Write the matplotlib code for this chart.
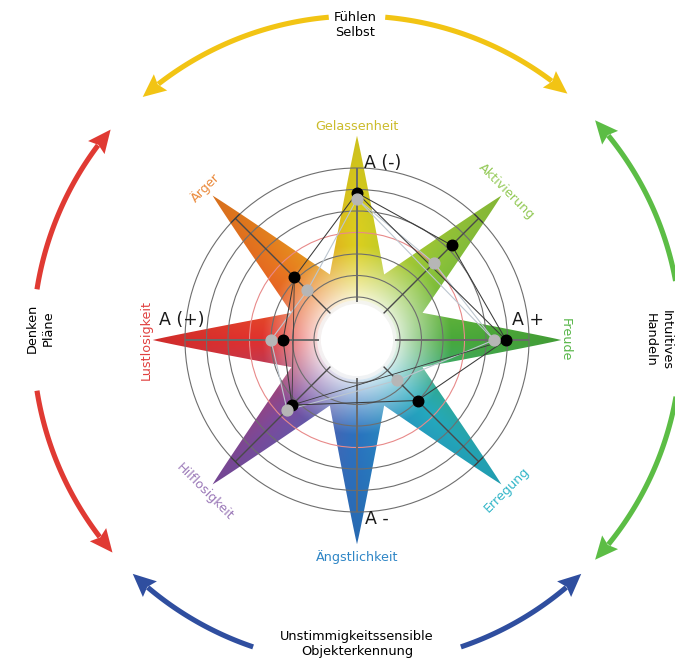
import numpy as np
import matplotlib
matplotlib.use("Agg")
import matplotlib.pyplot as plt
from matplotlib.patches import Polygon, Circle
from matplotlib.colors import to_rgb

# ---------------- data ----------------
categories = ["Gelassenheit", "Aktivierung", "Freude", "Erregung",
              "Ängstlichkeit", "Hilflosigkeit", "Lustlosigkeit", "Ärger"]
axis_angles = [90, 45, 0, -45, -90, -135, 180, 135]
black_values = [6.84, 6.23, 6.93, 3.98, np.nan, 4.28, 3.44, 4.12]
gray_values = [6.56, 5.07, 6.37, 2.65, np.nan, 4.60, 4.00, 3.26]
ring_values = [2, 3, 4, 5, 6, 7, 8]
highlight_ring = 5
spike_colors = ["#dccf1e", "#8fc43a", "#48a83a", "#24a9bd",
                "#2a72bf", "#7c4c9e", "#e0302e", "#e8791f"]
label_colors = ["#cbbb2a", "#93c956", "#58b649", "#33b6c8",
                "#2f86c6", "#9b79b8", "#e0403f", "#ea8a3c"]
label_rot = [0, -45, -90, 45, 0, -45, 90, 45]
label_r = [9.95, 9.8, 9.7, 9.87, 10.1, 10.0, 9.8, 10.0]

pole_labels = ["A (-)", "A +", "A -", "A (+)"]
pole_pos_px = [(383, 163), (528, 320), (377, 519), (182, 320)]

outer_labels = ["Fühlen\nSelbst", "Intuitives\nHandeln",
                "Unstimmigkeitssensible\nObjekterkennung", "Denken\nPläne"]
outer_pos_px = [(355, 25), (658, 340), (357, 644), (40, 328)]
outer_rot = [0, -90, 0, 90]
arrow_colors = ["#f2c414", "#5cbd45", "#2f4e9f", "#e03a33"]
arcs = [  # (start angle, end angle (arrow tip), color index)
    (95, 131.4, 0), (85, 49.5, 0),
    (10.5, 42.7, 1), (-9.6, -42.7, 1),
    (251.3, 226.2, 2), (288.7, 313.8, 2),
    (171, 139.5, 3), (189, 221, 3),
]

# ---------------- geometry / figure ----------------
W, H = 675, 658
cx, cy = 357, 340
unit = 21.5


def px2d(px, py):
    return (px - cx) / unit, (cy - py) / unit


fig = plt.figure(figsize=(W / 100, H / 100), dpi=100)
ax = fig.add_axes([0, 0, 1, 1])
ax.set_xlim(-cx / unit, (W - cx) / unit)
ax.set_ylim(-(H - cy) / unit, cy / unit)
ax.set_aspect("equal")
ax.axis("off")

# ---------------- star shape ----------------
tip_r = 9.5
vert_r = 3.3
u0 = vert_r * np.cos(np.radians(22.5))
w0 = vert_r * np.sin(np.radians(22.5))
us = np.linspace(u0, tip_r, 30)
ws = w0 * ((tip_r - us) / (tip_r - u0)) ** 0.95
pts = []
for phi in sorted([a % 360 for a in axis_angles]):
    p = np.radians(phi)
    e_u = np.array([np.cos(p), np.sin(p)])
    e_v = np.array([-np.sin(p), np.cos(p)])
    for u, w in zip(us, ws):
        pts.append(u * e_u - w * e_v)
    for u, w in zip(us[::-1][1:], ws[::-1][1:]):
        pts.append(u * e_u + w * e_v)
star = Polygon(np.array(pts), closed=True, facecolor="none",
               edgecolor="none", transform=ax.transData)
ax.add_patch(star)

# colour field
N = 900
lim = 9.7
g = np.linspace(-lim, lim, N)
X, Y = np.meshgrid(g, g)
R = np.hypot(X, Y)
TH = np.degrees(np.arctan2(Y, X)) % 360
anc = np.array([a % 360 for a in axis_angles], dtype=float)
order = np.argsort(anc)
anc_s = anc[order]
cols = np.array([to_rgb(c) for c in spike_colors])[order]
anc_ext = np.concatenate([anc_s, [anc_s[0] + 360]])
cols_ext = np.vstack([cols, cols[:1]])
rgb = np.zeros((N, N, 3))
for ch in range(3):
    rgb[..., ch] = np.interp(TH, anc_ext, cols_ext[:, ch])
t = np.clip((R - 1.5) / (4.4 - 1.5), 0, 1) ** 0.8
dark = 1 - 0.07 * np.clip((R - 5.0) / 4.4, 0, 1)
img = 1 - t[..., None] * (1 - rgb)
img = img * dark[..., None]
im = ax.imshow(img, extent=(-lim, lim, -lim, lim), origin="lower",
               interpolation="bilinear", zorder=1)
im.set_clip_path(star)

# white centre with soft halo
ax.add_patch(Circle((0, 0), 1.85, facecolor="#f4f4f4", edgecolor="none", zorder=2, alpha=0.8))
ax.add_patch(Circle((0, 0), 1.68, facecolor="white", edgecolor="none", zorder=2))

# rings
for rv in ring_values:
    col = "#e88a8a" if rv == highlight_ring else "#6e6e6e"
    ax.add_patch(Circle((0, 0), rv, fill=False, edgecolor=col, lw=0.8, zorder=3))

# spokes
for a in axis_angles:
    p = np.radians(a)
    ax.plot([1.75 * np.cos(p), 8.0 * np.cos(p)], [1.75 * np.sin(p), 8.0 * np.sin(p)],
            color="#4a4a4a" if a % 90 else "#6a6a6a", lw=1.0 if a % 90 else 1.4, zorder=4,
            solid_capstyle="butt")
    if a % 90:
        e = np.array([np.cos(p), np.sin(p)]) * 8.0
        v = np.array([-np.sin(p), np.cos(p)]) * 0.26
        ax.plot([e[0] - v[0], e[0] + v[0]], [e[1] - v[1], e[1] + v[1]],
                color="#3a3a3a", lw=0.9, zorder=4)


# ---------------- series ----------------
def xy(vals):
    xs, ys = [], []
    for v, a in zip(vals, axis_angles):
        if np.isnan(v):
            continue
        xs.append(v * np.cos(np.radians(a)))
        ys.append(v * np.sin(np.radians(a)))
    return np.array(xs), np.array(ys)


bx, by = xy(black_values)
gx, gy = xy(gray_values)
ax.plot(np.append(gx, gx[0]), np.append(gy, gy[0]), color="#bcc6cf", lw=0.8, zorder=5)
ax.plot([gx[0], gx[2]], [gy[0], gy[2]], color="#bcc6cf", lw=0.8, zorder=5)
ax.plot(np.append(bx, bx[0]), np.append(by, by[0]), color="#3a3a3a", lw=0.75, zorder=5)
ax.plot([bx[0], bx[2]], [by[0], by[2]], color="#3a3a3a", lw=0.75, zorder=5)
ax.plot([bx[2], bx[4]], [by[2], by[4]], color="#3a3a3a", lw=0.6, zorder=5)
ax.plot([bx[6], bx[4]], [by[6], by[4]], color="#3a3a3a", lw=0.6, zorder=5)
ax.plot(bx, by, "o", color="black", ms=7.6, zorder=6)
ax.plot(gx, gy, "o", color="#b6b6b6", ms=7.8, zorder=7)

# ---------------- labels ----------------
for name, a, col, rot, r in zip(categories, axis_angles, label_colors, label_rot, label_r):
    p = np.radians(a)
    ax.text(r * np.cos(p), r * np.sin(p), name, color=col, fontsize=9.2,
            rotation=rot, ha="center", va="center", rotation_mode="anchor", zorder=8)

for lab, (px, py) in zip(pole_labels, pole_pos_px):
    x, y = px2d(px, py)
    ax.text(x, y, lab, fontsize=12.5, color="#1a1a1a", ha="center", va="center", zorder=8)

for lab, (px, py), rot in zip(outer_labels, outer_pos_px, outer_rot):
    x, y = px2d(px, py)
    ax.text(x, y, lab, fontsize=9.3, color="black", ha="center", va="center",
            rotation=rot, linespacing=1.25, zorder=8)

# ---------------- outer arrows ----------------
R_arc = 324 / unit
head_len = 23 / unit
head_hw = 10.5 / unit
for a0, a1, ci in arcs:
    col = arrow_colors[ci]
    sgn = 1 if a1 > a0 else -1
    dth = np.degrees(head_len / R_arc)
    a_base = a1 - sgn * dth
    th = np.radians(np.linspace(a0, a_base + sgn * 0.5, 80))
    ax.plot(R_arc * np.cos(th), R_arc * np.sin(th), color=col, lw=3.7,
            solid_capstyle="butt", zorder=3)
    tip = R_arc * np.array([np.cos(np.radians(a1)), np.sin(np.radians(a1))])
    base = R_arc * np.array([np.cos(np.radians(a_base)), np.sin(np.radians(a_base))])
    d = tip - base
    d /= np.linalg.norm(d)
    n = np.array([-d[1], d[0]])
    head = np.array([tip, base + n * head_hw, base + d * head_len * 0.15, base - n * head_hw])
    ax.add_patch(Polygon(head, closed=True, facecolor=col, edgecolor="none", zorder=3))

fig.savefig("out.png", dpi=100)
